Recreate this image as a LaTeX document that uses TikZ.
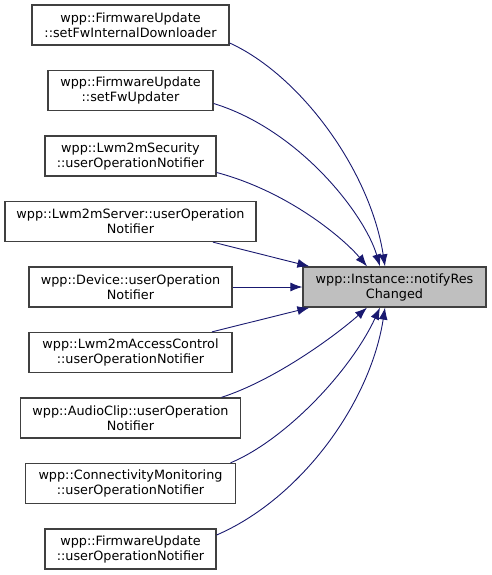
\documentclass[tikz,border=0pt]{standalone}
\usepackage{fontspec}
\setmainfont{DejaVu Sans}
\usetikzlibrary{arrows.meta}
\definecolor{EdgeBlue}{RGB}{25,25,112}
\definecolor{BoxGray}{RGB}{191,191,191}
\definecolor{BoxLine}{RGB}{64,64,64}
\tikzset{
  >=latex,
  % caselle del grafo delle chiamate
  fn/.style={draw=BoxLine,line width=1.3pt,fill=white,align=center,minimum height=40,inner sep=2,font=\fontsize{12.8}{15}\selectfont},
  fn main/.style={fn,fill=BoxGray},
  % chiamate
  call/.style={-{Latex[length=12,width=9]},EdgeBlue,line width=0.9pt}
}
\begin{document}
\begin{tikzpicture}[x=1pt,y=-1pt]
  \useasboundingbox (0,0) rectangle (491,575);
  % funzione chiamata
  \node[fn main,minimum width=183] (notifyRes) at (394.5,287) {wpp::Instance::notifyRes\\Changed};
  % chiamanti
  \node[fn,minimum width=197] (fwDownloader) at (130.5,25) {wpp::FirmwareUpdate\\::setFwInternalDownloader};
  \node[fn,minimum width=165] (fwUpdater) at (130.5,90.5) {wpp::FirmwareUpdate\\::setFwUpdater};
  \node[fn,minimum width=171] (secNotifier) at (130.5,156) {wpp::Lwm2mSecurity\\::userOperationNotifier};
  \node[fn,minimum width=251] (srvNotifier) at (130.5,221.5) {wpp::Lwm2mServer::userOperation\\Notifier};
  \node[fn,minimum width=203] (devNotifier) at (130.5,287) {wpp::Device::userOperation\\Notifier};
  \node[fn,minimum width=203] (acNotifier) at (130.5,352.5) {wpp::Lwm2mAccessControl\\::userOperationNotifier};
  \node[fn,minimum width=220] (audioNotifier) at (130.5,418) {wpp::AudioClip::userOperation\\Notifier};
  \node[fn,minimum width=210] (connNotifier) at (130.5,483.5) {wpp::ConnectivityMonitoring\\::userOperationNotifier};
  \node[fn,minimum width=171] (fwNotifier) at (130.5,549) {wpp::FirmwareUpdate\\::userOperationNotifier};
  % archi sopra
  \draw[call] ([yshift=-18]fwDownloader.east) .. controls (300,75) and (370,170) .. ([xshift=-9.5]notifyRes.north);
  \draw[call] ([yshift=-13]fwUpdater.east) .. controls (300,130) and (365,215) .. ([xshift=-14.5]notifyRes.north);
  \draw[call] ([yshift=-16.5]secNotifier.east) .. controls (290,192) and (345,240) .. ([xshift=-27.5]notifyRes.north);
  \draw[call] ([xshift=82.5]srvNotifier.south) -- ([xshift=7]notifyRes.north west);
  \draw[call] (devNotifier.east) -- (notifyRes.west);
  % archi sotto
  \draw[call] ([xshift=81.5]acNotifier.north) -- ([xshift=7]notifyRes.south west);
  \draw[call] ([xshift=91]audioNotifier.north) .. controls (275,380) and (335,336) .. ([xshift=-27.5]notifyRes.south);
  \draw[call] ([xshift=100]connNotifier.north) .. controls (285,440) and (350,372) .. ([xshift=-14.5]notifyRes.south);
  \draw[call] ([yshift=14]fwNotifier.east) .. controls (300,499) and (370,404) .. ([xshift=-9.5]notifyRes.south);
\end{tikzpicture}
\end{document}
